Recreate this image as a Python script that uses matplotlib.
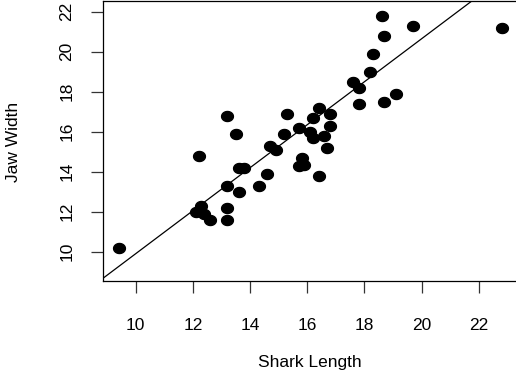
import numpy as np
import matplotlib
matplotlib.use("Agg")
import matplotlib.pyplot as plt
from matplotlib.path import Path

plt.rcParams['font.family'] = ['Liberation Sans', 'DejaVu Sans']

shark_length = [9.4, 12.1, 12.3, 12.4, 12.6, 12.2, 13.2, 13.2, 13.2, 13.2,
                13.5, 13.6, 13.6, 13.8, 14.3, 14.6, 14.7, 14.9, 15.2, 15.3,
                15.7, 15.8, 15.7, 15.9, 16.1, 16.2, 16.2, 16.4, 16.4, 16.6,
                16.7, 16.8, 16.8, 17.6, 17.8, 17.8, 18.2, 18.3, 18.6, 18.7,
                18.7, 19.1, 19.7, 22.8]
jaw_width = [10.2, 12.0, 12.3, 11.9, 11.6, 14.8, 11.6, 12.2, 13.3, 16.8,
             15.9, 13.0, 14.2, 14.2, 13.3, 13.9, 15.3, 15.1, 15.9, 16.9,
             16.2, 14.7, 14.3, 14.35, 16.0, 15.7, 16.7, 17.2, 13.8, 15.8,
             15.2, 16.9, 16.3, 18.5, 18.2, 17.4, 19.0, 19.9, 21.8, 20.8,
             17.5, 17.9, 21.3, 21.2]

# fitted line
intercept = -0.85
slope = 1.075

xticks = [10, 12, 14, 16, 18, 20, 22]
yticks = [10, 12, 14, 16, 18, 20, 22]

W, H = 516, 371
fig = plt.figure(figsize=(W / 100, H / 100), dpi=100)
ax = fig.add_axes([103 / W, 1 - 281 / H, 415 / W, 279.7 / H])

# slightly wide dots, like the original
t = np.linspace(0, 2 * np.pi, 60)
ell = Path(np.column_stack([np.cos(t), 0.85 * np.sin(t)]), closed=True)

ax.plot(shark_length, jaw_width, linestyle='none', marker=ell,
        markersize=8.5, color='black', clip_on=False, zorder=3)
ax.axline((0, intercept), slope=slope, color='black', linewidth=0.9)

ax.set_xlim(8.857, 23.368)
ax.set_ylim(8.535, 22.52)
ax.set_xticks(xticks)
ax.set_yticks(yticks)
ax.tick_params(axis='both', length=8.5, width=0.9, color='#333333', labelsize=12.5)
ax.tick_params(axis='x', pad=18)
ax.tick_params(axis='y', pad=12)
for lab in ax.get_yticklabels():
    lab.set_rotation(90)
    lab.set_va('center')
for s in ax.spines.values():
    s.set_linewidth(0.9)

fig.text(310 / W, 1 - 362 / H, 'Shark Length', ha='center', va='center', fontsize=12.5)
fig.text(14 / W, 1 - 142 / H, 'Jaw Width', ha='center', va='center',
         rotation=90, fontsize=12.5)

fig.savefig('out.png', dpi=100)
